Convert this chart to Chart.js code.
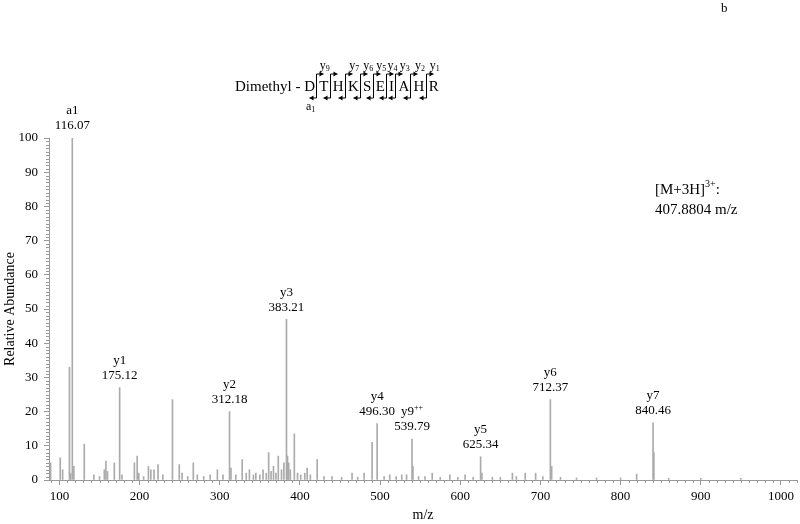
<!DOCTYPE html>
<html>
<head>
<meta charset="utf-8">
<script src="https://cdn.jsdelivr.net/npm/chart.js@4.4.1/dist/chart.umd.min.js"></script>
<style>
  body { margin: 0; background: #fff; }
  #wrap { width: 800px; height: 524px; }
</style>
</head>
<body>
<div id="wrap"><canvas id="spectrum" width="800" height="524"></canvas></div>
<script>
// labelled fragment ions
const ionNames = ['a1', 'y1', 'y2', 'y3', 'y4', 'y9++', 'y5', 'y6', 'y7']
const ionMz = [116.07, 175.12, 312.18, 383.21, 496.30, 539.79, 625.34, 712.37, 840.46]
const ionInt = [100, 27, 20, 47, 16.5, 12, 6.8, 23.5, 16.7]

// other peaks (unlabelled)
const peakMz = [89, 101, 104, 112.5, 114, 118, 131, 143, 150, 156, 158, 160, 168.5, 178, 193.5, 197, 199,
  205, 211, 214, 218, 223, 229, 241, 249.5, 253, 260, 267, 272, 280, 288, 297, 304, 314, 320, 328, 333,
  337, 342, 345, 350, 354, 358, 361, 364, 367, 370, 373, 377, 380, 384.5, 386, 388, 393, 397, 401, 406,
  409, 413, 421.5, 430, 440, 452, 465, 472, 480, 490, 505, 512, 520, 527, 533, 541, 548, 556, 565, 575,
  587, 597, 606, 616, 627, 640, 650, 665, 670, 681, 694, 703, 714, 725, 745, 770, 800, 820, 841.5, 860,
  900, 950]
const peakInt = [5, 6.5, 3, 33, 2, 4, 10.5, 1.5, 1, 3, 5.5, 2.5, 5, 1.5, 5, 7, 2,
  1, 4, 3, 3, 4.5, 1.5, 23.5, 4.5, 2, 1, 5, 1.5, 1, 1.5, 3, 1.5, 3.5, 1.5, 6, 2,
  3, 1.5, 2, 1.5, 3, 2, 8, 2.5, 4, 2, 7, 3, 5, 7, 5, 3, 13.5, 2, 1.5, 2,
  3.5, 1.5, 6, 1, 1, 0.8, 2, 0.8, 2, 11, 1, 1.5, 1, 1.5, 1.5, 4, 1, 1, 2, 0.8,
  1.5, 0.8, 1.5, 0.8, 2, 0.8, 0.8, 2, 1, 2, 2, 1, 4, 0.8, 0.6, 0.6, 0.6, 1.7, 8, 0.5,
  0.5, 0.5]

// peptide annotation
const prefix = 'Dimethyl - '
const residues = ['D', 'T', 'H', 'K', 'S', 'E', 'I', 'A', 'H', 'R']
const yLabels = ['9', '', '7', '6', '5', '4', '3', '2', '1']   // one per cleavage site
const aLabels = ['1', '', '', '', '', '', '', '', '']

const precursor = ['[M+3H]', '3+', ':']
const precursorMz = '407.8804 m/z'

const serif = "'Liberation Serif', 'Times New Roman', serif"
Chart.defaults.font.family = serif
Chart.defaults.color = '#000'

const points = peakMz.map((m, i) => ({ x: m, y: peakInt[i] }))
  .concat(ionMz.map((m, i) => ({ x: m, y: ionInt[i] })))

function supText(ctx, base, sup, x, y, size) {
  ctx.font = size + 'px ' + serif
  const w1 = ctx.measureText(base).width
  ctx.font = Math.round(size * 0.65) + 'px ' + serif
  const w2 = ctx.measureText(sup).width
  const start = x - (w1 + w2) / 2
  ctx.textAlign = 'left'
  ctx.font = size + 'px ' + serif
  ctx.fillText(base, start, y)
  ctx.font = Math.round(size * 0.65) + 'px ' + serif
  ctx.fillText(sup, start + w1, y - size * 0.35)
}

function subText(ctx, base, sub, x, y, size) {
  ctx.font = size + 'px ' + serif
  const w1 = ctx.measureText(base).width
  ctx.font = Math.round(size * 0.7) + 'px ' + serif
  const w2 = ctx.measureText(sub).width
  const start = x - (w1 + w2) / 2
  ctx.textAlign = 'left'
  ctx.font = size + 'px ' + serif
  ctx.fillText(base, start, y)
  ctx.font = Math.round(size * 0.7) + 'px ' + serif
  ctx.fillText(sub, start + w1, y + size * 0.25)
}

function arrow(ctx, x1, y1, x2, y2) {
  ctx.beginPath()
  ctx.moveTo(x1, y1)
  ctx.lineTo(x2, y2)
  ctx.stroke()
  const d = x2 > x1 ? -1 : 1
  ctx.beginPath()
  ctx.moveTo(x2, y2)
  ctx.lineTo(x2 + d * 4, y2 - 2.5)
  ctx.lineTo(x2 + d * 4, y2 + 2.5)
  ctx.closePath()
  ctx.fill()
}

const annotate = {
  id: 'annotate',
  afterDraw(chart) {
    const { ctx, scales: { x, y } } = chart
    ctx.save()
    ctx.fillStyle = '#000'
    ctx.textBaseline = 'middle'

    // minor ticks
    ctx.strokeStyle = '#999'
    ctx.lineWidth = 1
    ctx.beginPath()
    for (let v = 90; v <= 1020; v += 10) {
      if (v % 100 === 0) continue
      const px = Math.round(x.getPixelForValue(v)) + 0.5
      ctx.moveTo(px, y.bottom)
      ctx.lineTo(px, y.bottom + 3)
    }
    for (let v = 1; v < 100; v++) {
      if (v % 10 === 0) continue
      const py = Math.round(y.getPixelForValue(v)) + 0.5
      ctx.moveTo(x.left, py)
      ctx.lineTo(x.left - 3, py)
    }
    ctx.stroke()

    // peak labels
    ionNames.forEach((name, i) => {
      const px = x.getPixelForValue(ionMz[i])
      const py = y.getPixelForValue(ionInt[i])
      ctx.textAlign = 'center'
      ctx.font = '13px ' + serif
      ctx.fillText(ionMz[i].toFixed(2), px, py - 12)
      if (name.endsWith('++')) {
        supText(ctx, name.slice(0, -2), '++', px, py - 27, 13)
      } else {
        ctx.textAlign = 'center'
        ctx.font = '13px ' + serif
        ctx.fillText(name, px, py - 27)
      }
    })

    // peptide sequence with fragment brackets
    ctx.strokeStyle = '#000'
    ctx.textAlign = 'left'
    ctx.font = '15px ' + serif
    let cx = 235
    const base = 87
    ctx.fillText(prefix, cx, base)
    cx += ctx.measureText(prefix).width
    const gap = 4.3
    const centers = []
    const seps = []
    residues.forEach((r, i) => {
      ctx.font = '15px ' + serif
      ctx.textAlign = 'left'
      ctx.fillText(r, cx, base)
      const w = ctx.measureText(r).width
      centers.push(cx + w / 2)
      cx += w
      if (i < residues.length - 1) {
        seps.push(Math.round(cx + gap / 2 - 1) + 0.5)
        cx += gap
      }
    })
    seps.forEach((sx, i) => {
      ctx.beginPath()
      ctx.moveTo(sx, 74)
      ctx.lineTo(sx, 98)
      ctx.stroke()
      arrow(ctx, sx, 74, sx + 7, 74)
      arrow(ctx, sx, 98, sx - 7, 98)
      if (yLabels[i]) subText(ctx, 'y', yLabels[i], centers[i + 1] + 1, 66, 12)
      if (aLabels[i]) subText(ctx, 'a', aLabels[i], centers[i] + 1, 107, 12)
    })

    // precursor
    ctx.font = '15px ' + serif
    ctx.textAlign = 'left'
    let tx = 655
    ctx.fillText(precursor[0], tx, 190)
    tx += ctx.measureText(precursor[0]).width
    ctx.font = '10px ' + serif
    ctx.fillText(precursor[1], tx, 184)
    tx += ctx.measureText(precursor[1]).width
    ctx.font = '15px ' + serif
    ctx.fillText(precursor[2], tx, 190)
    ctx.fillText(precursorMz, 655, 210)

    // panel letter
    ctx.font = '13px ' + serif
    ctx.fillText('b', 721, 9)
    ctx.restore()
  }
}

new Chart(document.getElementById('spectrum'), {
  type: 'bar',
  data: {
    datasets: [{
      data: points,
      backgroundColor: '#ababab',
      barThickness: 1,
      grouped: false
    }]
  },
  options: {
    responsive: false,
    animation: false,
    layout: { padding: { top: 138, right: 3, left: 0, bottom: 0 } },
    plugins: { legend: { display: false }, tooltip: { enabled: false } },
    scales: {
      x: {
        type: 'linear',
        min: 87,
        max: 1020,
        offset: false,
        afterFit: (s) => { s.height = 44 },
        border: { color: '#999' },
        grid: { drawOnChartArea: false, tickLength: 5, tickColor: '#999', offset: false },
        ticks: { stepSize: 100, includeBounds: false, padding: 4, font: { size: 13 }, maxRotation: 0, callback: (v) => String(v) },
        title: { display: true, text: 'm/z', font: { size: 14 }, padding: 0 }
      },
      y: {
        min: 0,
        max: 100,
        afterFit: (s) => { s.width = 49 },
        border: { color: '#999' },
        grid: { drawOnChartArea: false, tickLength: 5, tickColor: '#999' },
        ticks: { stepSize: 10, padding: 6, font: { size: 13 }, callback: (v) => String(v) },
        title: { display: true, text: 'Relative Abundance', font: { size: 14 }, padding: { top: 2, bottom: 0 } }
      }
    }
  },
  plugins: [annotate]
})
</script>
</body>
</html>
